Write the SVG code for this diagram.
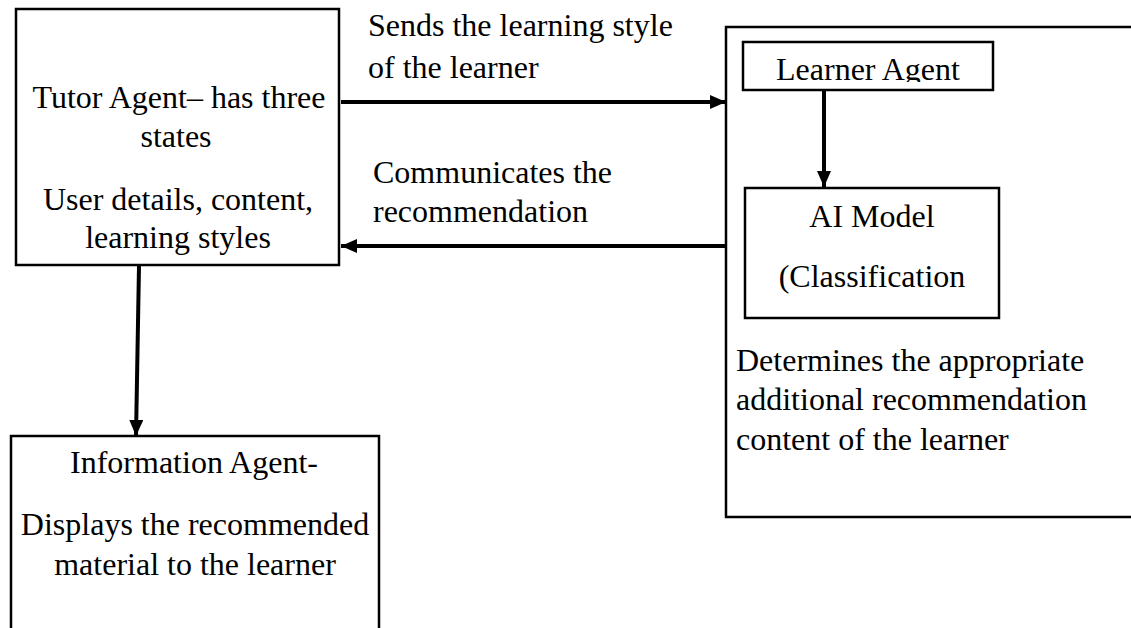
<svg xmlns="http://www.w3.org/2000/svg" width="1131" height="628" viewBox="0 0 1131 628">
  <style>
    .box { fill: #fff; stroke: #000; stroke-width: 2.5; }
    .txt { font-family: "Liberation Serif", "Times New Roman", serif; font-size: 32px; fill: #000; }
    .mid { text-anchor: middle; }
    .wire { stroke: #000; stroke-width: 4; fill: none; }
  </style>
  <defs>
    <marker id="head" markerUnits="userSpaceOnUse" markerWidth="16" markerHeight="14" refX="16" refY="7" orient="auto">
      <path d="M0,0 L16,7 L0,14 Z" fill="#000"/>
    </marker>
    <clipPath id="learnerClip">
      <rect x="743" y="42" width="250" height="40"/>
    </clipPath>
  </defs>

  <rect width="1131" height="628" fill="#fff"/>

  <g id="tutor-agent">
    <rect class="box" x="16" y="9" width="323" height="256"/>
    <text class="txt mid" x="179" y="108">Tutor Agent– has three</text>
    <text class="txt mid" x="176" y="147">states</text>
    <text class="txt mid" x="178" y="210">User details, content,</text>
    <text class="txt mid" x="178" y="248">learning styles</text>
  </g>

  <g id="learner-container">
    <rect class="box" x="726" y="27" width="420" height="490"/>
    <text class="txt" x="736" y="371">Determines the appropriate</text>
    <text class="txt" x="736" y="410">additional recommendation</text>
    <text class="txt" x="736" y="450">content of the learner</text>
  </g>

  <g id="learner-agent">
    <rect class="box" x="743" y="42" width="250" height="48"/>
    <text class="txt mid" x="868" y="80" clip-path="url(#learnerClip)">Learner Agent</text>
  </g>

  <g id="ai-model">
    <rect class="box" x="745" y="188" width="254" height="130"/>
    <text class="txt mid" x="872" y="227">AI Model</text>
    <text class="txt mid" x="872" y="287">(Classification</text>
  </g>

  <g id="information-agent">
    <rect class="box" x="11" y="436" width="368" height="210"/>
    <text class="txt mid" x="194" y="473">Information Agent-</text>
    <text class="txt mid" x="195" y="535">Displays the recommended</text>
    <text class="txt mid" x="195" y="575">material to the learner</text>
  </g>

  <g id="connectors">
    <line class="wire" x1="341" y1="102" x2="726" y2="102" marker-end="url(#head)"/>
    <line class="wire" x1="726" y1="246" x2="341" y2="246" marker-end="url(#head)"/>
    <line class="wire" x1="824" y1="90" x2="824" y2="187" marker-end="url(#head)"/>
    <line class="wire" x1="139" y1="266" x2="136" y2="436" marker-end="url(#head)"/>
  </g>

  <g id="edge-labels">
    <text class="txt" x="368" y="36">Sends the learning style</text>
    <text class="txt" x="368" y="78">of the learner</text>
    <text class="txt" x="373" y="183">Communicates the</text>
    <text class="txt" x="373" y="222">recommendation</text>
  </g>
</svg>
